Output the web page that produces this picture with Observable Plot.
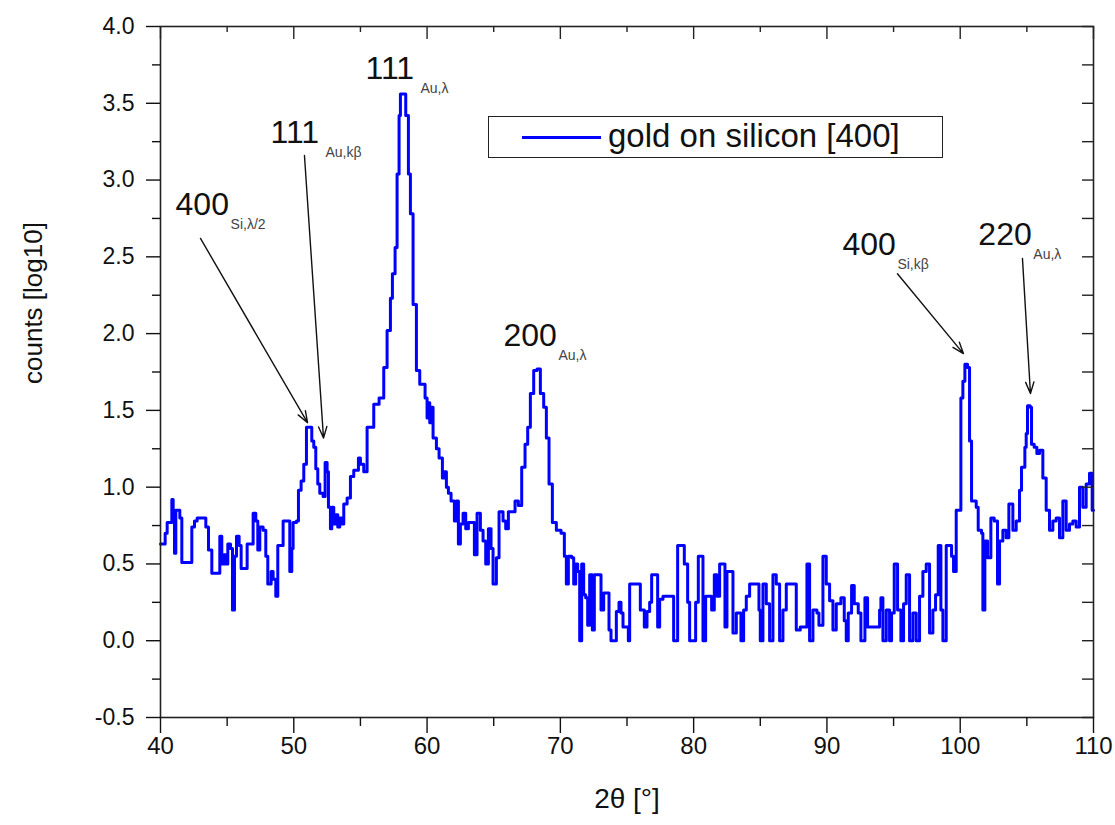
<!DOCTYPE html>
<html><head><meta charset="utf-8">
<script src="https://cdn.jsdelivr.net/npm/d3@7"></script>
<script src="https://cdn.jsdelivr.net/npm/@observablehq/plot@0.6"></script>
<style>
body{margin:0;background:#fff;}
#wrap{position:relative;width:1115px;height:825px;}
#legend{position:absolute;left:488px;top:116px;width:455px;height:42px;border:1.5px solid #222;box-sizing:border-box;background:#fff;font-family:"Liberation Sans",Arial,sans-serif;}
#legend .sw{position:absolute;left:33px;top:19px;width:79px;height:3px;background:#0000ff;}
#legend .lb{position:absolute;left:119px;top:0px;line-height:38px;font-size:33px;color:#111;white-space:nowrap;}
</style></head><body><div id="wrap"></div>
<script>
// ---- data ----
const twoTheta = [40.0,40.25,40.35,40.5,40.7,40.85,40.95,41.05,41.15,41.3,41.45,41.6,42.2,42.35,42.55,42.75,43.2,43.4,43.6,43.85,44.3,44.45,44.6,44.75,44.9,45.05,45.25,45.4,45.55,45.7,45.9,46.05,46.35,46.5,46.8,46.95,47.15,47.3,47.45,47.7,47.9,48.05,48.3,48.45,48.65,48.8,49.0,49.2,49.55,49.7,49.85,49.95,50.2,50.35,50.55,50.75,50.95,51.2,51.35,51.5,51.65,51.8,51.95,52.2,52.35,52.5,52.6,52.75,52.85,53.0,53.15,53.3,53.45,53.6,53.75,54.0,54.25,
54.5,54.85,55.0,55.25,55.5,56.0,56.4,56.75,57.0,57.25,57.4,57.6,57.75,57.9,58.0,58.25,58.4,58.6,58.75,58.95,59.2,59.45,59.85,60.0,60.1,60.2,60.3,60.45,60.7,60.9,
61.0,61.15,61.3,61.45,61.6,61.8,62.05,62.2,62.35,62.5,62.7,62.9,63.1,63.4,63.55,63.75,64.0,64.2,64.4,64.6,64.8,64.95,65.2,65.4,65.7,65.9,66.1,66.4,66.6,66.85,67.1,67.35,67.55,67.75,68.0,68.25,68.5,68.75,68.95,69.15,69.4,69.7,70.05,70.3,70.45,70.6,70.85,71.0,71.15,71.3,71.45,71.6,71.75,71.9,72.05,72.2,72.4,72.55,72.8,73.05,73.25,73.5,73.65,73.8,74.1,74.2,74.4,74.55,74.7,75.0,75.1,75.2,75.85,76.0,76.3,76.5,76.7,76.85,77.1,77.3,77.45,77.7,78.35,78.5,78.8,79.1,79.3,79.55,79.7,80.0,80.15,80.35,80.6,80.7,80.9,81.2,81.35,81.55,81.75,81.95,82.25,82.35,82.5,82.85,82.95,83.2,83.45,83.55,83.75,83.95,84.2,84.7,84.9,85.0,85.2,85.45,85.7,85.95,86.2,86.45,86.7,86.95,87.55,87.7,88.0,88.35,88.5,88.7,88.95,89.25,89.4,89.7,89.95,90.2,90.45,90.7,91.05,91.3,91.45,91.6,91.85,92.05,92.35,92.55,92.85,93.05,93.85,93.95,94.05,94.2,94.45,94.7,94.85,95.05,95.3,95.55,95.75,95.95,96.2,96.45,96.7,96.95,97.2,97.45,97.7,97.95,98.15,98.35,98.55,98.7,98.95,99.15,99.35,99.5,99.7,
100.05,100.2,100.35,100.55,100.7,100.85,101.2,101.35,101.6,101.7,101.85,102.05,102.3,102.55,102.8,102.95,103.2,103.45,103.65,103.95,104.2,104.45,104.6,104.85,104.95,105.05,105.25,105.35,105.55,105.75,105.95,106.2,106.45,106.7,106.95,107.2,107.45,107.7,107.95,108.2,108.45,108.7,108.95,109.2,109.45,109.7,109.9,110.0];
const counts = [0.63,0.63,0.70,0.77,0.77,0.92,0.85,0.57,0.85,0.85,0.80,0.51,0.51,0.74,0.78,0.80,0.80,0.74,0.59,0.44,0.44,0.68,0.50,0.56,0.50,0.63,0.60,0.20,0.55,0.68,0.62,0.47,0.47,0.63,0.63,0.83,0.78,0.59,0.74,0.72,0.55,0.37,0.45,0.40,0.29,0.62,0.62,0.78,0.78,0.45,0.60,0.77,0.78,0.98,1.04,1.15,1.39,1.39,1.30,1.26,1.12,1.02,0.96,0.94,1.16,1.10,0.87,0.73,0.87,0.76,0.82,0.74,0.80,0.76,0.89,0.93,1.07,
1.11,1.19,1.15,1.10,1.39,1.54,1.58,1.78,2.02,2.23,2.39,2.56,3.04,3.42,3.56,3.56,3.42,3.04,2.78,2.19,1.76,1.67,1.58,1.45,1.55,1.42,1.52,1.32,1.25,1.19,
1.19,1.06,1.10,1.00,0.96,0.91,0.78,0.91,0.63,0.76,0.83,0.73,0.77,0.77,0.56,0.83,0.72,0.65,0.50,0.73,0.60,0.37,0.54,0.84,0.78,0.73,0.84,0.84,0.91,0.88,1.13,1.28,1.39,1.61,1.76,1.77,1.61,1.52,1.32,1.02,0.77,0.72,0.70,0.55,0.37,0.55,0.54,0.37,0.50,0.45,0.0,0.50,0.30,0.28,0.10,0.43,0.07,0.43,0.43,0.20,0.31,0.31,0.07,0.0,0.0,0.19,0.25,0.18,0.09,0.09,0.0,0.37,0.37,0.20,0.09,0.19,0.25,0.43,0.43,0.09,0.27,0.29,0.29,0.0,0.62,0.62,0.50,0.25,0.0,0.0,0.25,0.55,0.55,0.0,0.29,0.29,0.20,0.43,0.29,0.50,0.50,0.09,0.45,0.45,0.05,0.18,0.18,0.0,0.20,0.29,0.37,0.37,0.20,0.0,0.37,0.24,0.0,0.43,0.37,0.0,0.20,0.37,0.37,0.07,0.09,0.09,0.50,0.0,0.20,0.18,0.10,0.55,0.37,0.26,0.07,0.24,0.28,0.13,0.0,0.18,0.36,0.24,0.18,0.0,0.28,0.09,0.09,0.20,0.28,0.0,0.20,0.0,0.18,0.50,0.20,0.0,0.24,0.43,0.0,0.18,0.0,0.29,0.45,0.50,0.05,0.20,0.30,0.62,0.20,0.0,0.62,0.62,0.55,0.45,0.85,
1.58,1.69,1.80,1.78,1.30,0.91,0.87,0.72,0.70,0.20,0.65,0.54,0.80,0.78,0.37,0.65,0.72,0.67,0.89,0.72,0.78,0.98,1.13,1.26,1.35,1.53,1.52,1.28,1.26,1.22,1.24,1.06,0.85,0.72,0.78,0.80,0.67,0.91,0.72,0.76,0.78,0.74,1.00,0.87,1.02,1.09,0.85,0.85];

const xTicks = [40,50,60,70,80,90,100,110];
const xMinorTicks = [45,55,65,75,85,95,105];
const yTicks = [-0.5,0,0.5,1,1.5,2,2.5,3,3.5,4];
const yMinorTicks = [-0.25,0.25,0.75,1.25,1.75,2.25,2.75,3.25,3.75];

const peakLabels = ["111","111","400","200","400","220"];
const peakSubs   = ["Au,λ","Au,kβ","Si,λ/2","Au,λ","Si,kβ","Au,λ"];
const peakLabelX = [55.38,48.25,41.13,65.73,91.16,101.36];
const peakLabelY = [3.66,3.24,2.77,1.92,2.51,2.58];

const arrowX1 = [43.0,50.8,95.29,104.67];
const arrowY1 = [2.62,3.16,2.39,2.49];
const arrowX2 = [51.03,52.23,100.24,105.27];
const arrowY2 = [1.42,1.32,1.87,1.61];

const seriesName = "gold on silicon [400]";
const xTitle = "2θ [°]";
const yTitle = "counts [log10]";

// ---- chart ----
const data = twoTheta.map((t, i) => ({t, c: counts[i]}));
const W = 1115, H = 825, mL = 160, mR = 22, mT = 26, mB = 108;
const fw = W - mL - mR, fh = H - mT - mB;
const font = "Liberation Sans, Arial, sans-serif";

const chart = Plot.plot({
  width: W, height: H,
  marginLeft: mL, marginRight: mR, marginTop: mT, marginBottom: mB,
  x: {domain: [40, 110]},
  y: {domain: [-0.5, 4]},
  style: {fontFamily: font, color: "#111", background: "#fff"},
  marks: [
    Plot.line(data, {x: "t", y: "c", curve: "step-after", stroke: "#0000ff", strokeWidth: 3}),
    Plot.frame({stroke: "#222", strokeWidth: 1.6}),
    Plot.axisX(xTicks, {tickSize: 16, tickPadding: 3, fontSize: 24, label: null, tickFormat: d => String(d), strokeWidth: 1.4}),
    Plot.axisX(xMinorTicks, {tickSize: 9, tickFormat: () => "", label: null, strokeWidth: 1.4}),
    Plot.axisY(yTicks, {tickSize: 14, tickPadding: 12, fontSize: 23, label: null, tickFormat: d => d.toFixed(1), strokeWidth: 1.4}),
    Plot.axisY(yMinorTicks, {tickSize: 8, tickFormat: () => "", label: null, strokeWidth: 1.4}),
    Plot.tickX(xTicks, {x: d => d, insetBottom: fh - 13, stroke: "#222", strokeWidth: 1.4}),
    Plot.tickX(xMinorTicks, {x: d => d, insetBottom: fh - 6, stroke: "#222", strokeWidth: 1.4}),
    Plot.tickY(yTicks, {y: d => d, insetLeft: fw - 11, stroke: "#222", strokeWidth: 1.4}),
    Plot.tickY(yMinorTicks, {y: d => d, insetLeft: fw - 11, stroke: "#222", strokeWidth: 1.4}),
    Plot.arrow(arrowX1, {x1: arrowX1, y1: arrowY1, x2: arrowX2, y2: arrowY2, stroke: "#111", strokeWidth: 1.4, headLength: 13, headAngle: 40}),
    Plot.text(peakLabels, {x: peakLabelX, y: peakLabelY, text: peakLabels, textAnchor: "start", lineAnchor: "bottom", fontSize: 32, fill: "#111"}),
    Plot.text(peakSubs, {x: peakLabelX, y: peakLabelY, text: peakSubs, textAnchor: "start", lineAnchor: "bottom", dx: 55, dy: 14, fontSize: 14, fill: "#444"}),
    Plot.text([yTitle], {frameAnchor: "left", dx: -127, dy: 12, rotate: -90, fontSize: 26, fill: "#111"}),
    Plot.text([xTitle], {frameAnchor: "bottom", dy: 90, fontSize: 28, fill: "#111"})
  ]
});

const wrap = document.getElementById("wrap");
wrap.appendChild(chart);
const legend = document.createElement("div");
legend.id = "legend";
legend.innerHTML = `<div class="sw"></div><div class="lb">${seriesName}</div>`;
wrap.appendChild(legend);
</script>
</body></html>
